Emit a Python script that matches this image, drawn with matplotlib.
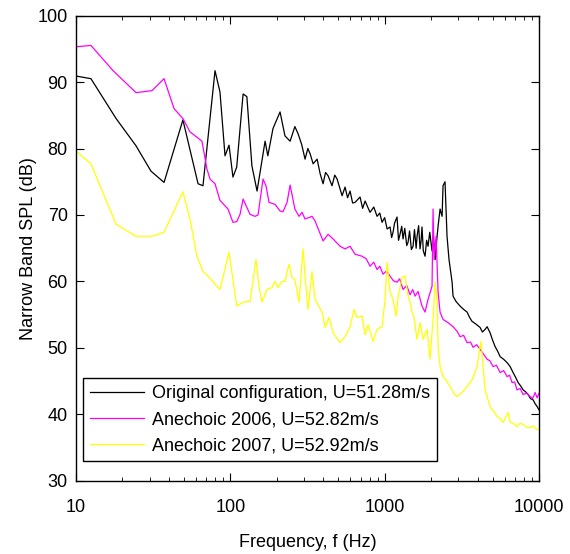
import numpy as np
import matplotlib
matplotlib.use("Agg")
import matplotlib.pyplot as plt
from matplotlib.ticker import NullFormatter

plt.rcParams["font.family"] = ["Liberation Sans", "DejaVu Sans"]

# narrow band spectra
# frequency in Hz, SPL in dB
orig_f = [10, 12.5, 18.2, 24.5, 30.6, 37.2, 49.3, 61.8, 66.5, 79.6, 85.7, 92.4,
          98.1, 104, 110, 121, 128, 138, 149, 168, 175, 189, 210, 226, 244,
          262, 275, 290, 305, 318, 329, 344, 365, 382, 399, 414, 430, 456, 475,
          492, 530, 554, 575, 597, 620, 643, 693, 720, 747, 804, 850, 893, 930,
          962, 1000, 1037, 1084, 1110, 1133, 1160, 1203, 1230, 1258, 1290, 1316,
          1350, 1390, 1418, 1450, 1490, 1528, 1560, 1600, 1622, 1660, 1695,
          1720, 1746, 1780, 1827, 1870, 1910, 1960, 2028, 2070, 2123, 2186,
          2219, 2286, 2356, 2389, 2461, 2500, 2536, 2612, 2735, 2774, 2900,
          3081, 3250, 3420, 3550, 3684, 3900, 4150, 4300, 4475, 4611, 4820,
          5000, 5199, 5400, 5602, 5900, 6215, 6504, 6797, 7050, 7326, 7600,
          7894, 8200, 8505, 8800, 9160, 9450, 9724, 10000]
orig_db = [90.9, 90.5, 84.5, 80.4, 76.6, 74.9, 84.3, 74.7, 74.4, 91.7, 88.5, 78.9,
           80.5, 75.7, 77.2, 88.2, 87.8, 77.4, 73.6, 81.1, 78.9, 83.0, 85.5, 81.9, 81.1,
           83.3, 82.2, 80.6, 78.4, 80.0, 79.2, 77.7, 78.4, 76.2, 74.7, 76.4, 75.9, 74.4, 76.0,
           75.4, 72.9, 74.2, 72.6, 73.6, 71.8, 71.9, 72.7, 71.0, 72.1, 70.4, 71.2, 69.8, 70.3,
           68.9, 69.6, 67.9, 68.2, 66.6, 67.4, 68.8, 69.7, 66.2, 67.1, 68.3, 66.4,
           68.0, 65.4, 65.9, 67.6, 64.8, 65.3, 67.8, 65.0, 66.8, 68.4, 64.9,
           66.0, 68.2, 64.6, 63.8, 66.2, 65.3, 67.4, 64.6, 66.9, 63.3, 66.8,
           68.3, 70.9, 69.8, 74.4, 75.0, 70.9, 66.8, 63.3, 59.9, 57.8, 57.0,
           56.3, 55.8, 55.4, 54.6, 54.0, 53.6, 53.1, 52.4, 52.8, 53.2, 52.3,
           51.2, 50.2, 49.5, 48.7, 48.3, 47.8, 47.2, 46.3, 45.6, 44.8, 44.3,
           43.7, 43.4, 43.0, 42.4, 42.2, 41.6, 41.2, 40.7]

a2006_f = [10, 12.5, 17.4, 24.5, 31.1, 37.2, 43.2, 49.3, 54.8, 60.8, 65.5, 70.6,
           73.9, 79.6, 85.7, 96.6, 104, 110, 115.6, 121, 134.2, 144.6, 151.2, 162.9,
           170.3, 178.2, 194.9, 210, 219.6, 233.2, 244, 262, 278.8, 291.5, 305,
           338.4, 354, 399, 430, 463, 514, 554, 597, 643, 714, 760, 804, 850, 893,
           930, 976, 1030, 1084, 1140, 1203, 1250, 1316, 1390, 1461, 1520, 1575,
           1646, 1746, 1827, 1910, 2028, 2059, 2090, 2154, 2219, 2286, 2389,
           2576, 2774, 2950, 3081, 3250, 3420, 3600, 3741, 3950, 4150, 4400,
           4611, 4800, 5041, 5300, 5602, 5900, 6215, 6450, 6692, 6950, 7212,
           7550, 7894, 8300, 8759, 9100, 9436, 9724, 10000]
a2006_db = [95.3, 95.5, 91.7, 88.4, 88.7, 90.5, 86.0, 84.5, 82.5, 81.7, 81.1, 76.9,
            75.4, 74.7, 72.2, 70.9, 68.9, 69.0, 70.1, 72.4, 70.1, 69.8, 70.0, 75.4,
            74.4, 71.9, 71.6, 70.6, 70.5, 71.9, 74.5, 70.9, 69.8, 70.4, 69.4,
            69.8, 69.1, 66.1, 67.1, 66.4, 65.3, 64.9, 65.3, 64.1, 63.8, 63.4, 62.3, 62.9, 61.8,
            62.3, 61.1, 61.6, 60.8, 60.1, 59.9, 60.4, 58.8, 59.4, 58.0, 58.8, 57.8,
            58.5, 56.3, 55.4, 57.3, 59.3, 70.9, 63.3, 66.8, 58.4, 55.4, 54.3,
            53.8, 53.2, 52.5, 51.7, 51.9, 50.8, 50.9, 50.1, 50.5, 49.8, 49.0,
            48.3, 48.1, 47.2, 47.4, 46.3, 46.6, 45.7, 45.9, 44.8, 44.9, 43.7,
            43.9, 43.0, 43.2, 42.7, 42.4, 43.3, 42.5, 43.2]

a2007_f = [10, 12.5, 18.2, 24.5, 31.1, 37.2, 49.3, 54.8, 60.8, 66.5, 71.7, 79.6,
           85.7, 98.1, 110, 121, 134.2, 146.7, 153.5, 160.5, 173, 186.4, 194.9,
           203.8, 216.3, 226, 240.2, 251.1, 262, 278.8, 296, 305, 318.8, 338.4,
           354, 392.9, 410.9, 436.2, 463, 514, 554, 597, 633.5, 662.5, 713.8,
           747, 780.5, 841, 893, 962, 1006, 1037, 1084, 1133, 1185, 1221, 1296,
           1356, 1418, 1461, 1505, 1550, 1622, 1695, 1774, 1883, 1969, 2059,
           2123, 2186, 2219, 2286, 2389, 2520, 2654, 2800, 2946, 3174, 3420,
           3684, 3970, 4150, 4214, 4342, 4475, 4820, 5100, 5350, 5600, 5853,
           6305, 6504, 6850, 7212, 7550, 7894, 8300, 8759, 9200, 9724, 10000]
a2007_db = [79.6, 77.7, 68.6, 66.8, 66.8, 67.4, 73.5, 69.4, 63.8, 61.5, 60.8, 59.6,
            58.8, 64.4, 56.3, 56.9, 57.0, 63.3, 59.3, 56.9, 58.8, 59.1, 60.0,
            59.1, 60.0, 60.0, 62.6, 60.6, 60.3, 56.9, 64.9, 60.8, 55.8, 61.5,
            57.3, 55.4, 53.1, 54.6, 52.3, 50.8, 51.7, 53.2, 55.8, 54.6, 54.8,
            52.0, 53.5, 51.0, 52.8, 53.2, 57.3, 62.9, 58.4, 57.3, 54.8, 57.6, 60.6,
            60.8, 57.8, 56.9, 55.4, 54.6, 51.3, 53.8, 51.3, 52.8, 48.3, 54.3,
            59.9, 56.9, 50.2, 47.2, 45.7, 45.0, 44.2, 43.2, 42.7, 43.3, 44.2,
            45.2, 47.2, 50.2, 51.0, 47.2, 43.7, 41.2, 40.4, 39.7, 39.4, 38.8,
            40.3, 38.9, 38.6, 38.2, 38.7, 38.5, 38.1, 38.0, 38.3, 37.7, 37.8]

labels = ["Original configuration, U=51.28m/s",
          "Anechoic 2006, U=52.82m/s",
          "Anechoic 2007, U=52.92m/s"]
colors = ["black", "#ff00ff", "#ffff00"]

fig = plt.figure(figsize=(5.7, 5.54), dpi=100)
ax = fig.add_axes([0.1333, 0.1318, 0.8123, 0.8402])

for f, db, lab, c in zip([orig_f, a2006_f, a2007_f],
                         [orig_db, a2006_db, a2007_db], labels, colors):
    ax.semilogx(f, db, color=c, lw=0.9, label=lab)

ax.set_xlim(10, 10000)
ax.set_ylim(30, 100)
ax.set_xticks([10, 100, 1000, 10000])
ax.set_xticklabels(["10", "100", "1000", "10000"])
ax.xaxis.set_minor_formatter(NullFormatter())
ax.set_yticks(np.arange(30, 101, 10))

# matlab look: ticks inside, on every side
ax.tick_params(which="both", direction="in", top=True, right=True, labelsize=13)
ax.tick_params(which="major", length=6, width=0.8)
ax.tick_params(which="minor", length=3, width=0.6)
ax.tick_params(axis="x", pad=13)
ax.tick_params(axis="y", pad=6)
for s in ax.spines.values():
    s.set_linewidth(1.0)

ax.set_xlabel("Frequency, f (Hz)", fontsize=13)
ax.set_ylabel("Narrow Band SPL (dB)", fontsize=13)
ax.xaxis.set_label_coords(0.5, -0.113)
ax.yaxis.set_label_coords(-0.084, 0.5)

leg = ax.legend(loc="lower left", bbox_to_anchor=(0.015, 0.043), fontsize=13,
                fancybox=False, framealpha=1, edgecolor="black",
                borderpad=0.38, handlelength=3.0, handletextpad=0.45,
                labelspacing=0.5, borderaxespad=0)
leg.get_frame().set_linewidth(1.0)

fig.savefig("out.png", dpi=100)
